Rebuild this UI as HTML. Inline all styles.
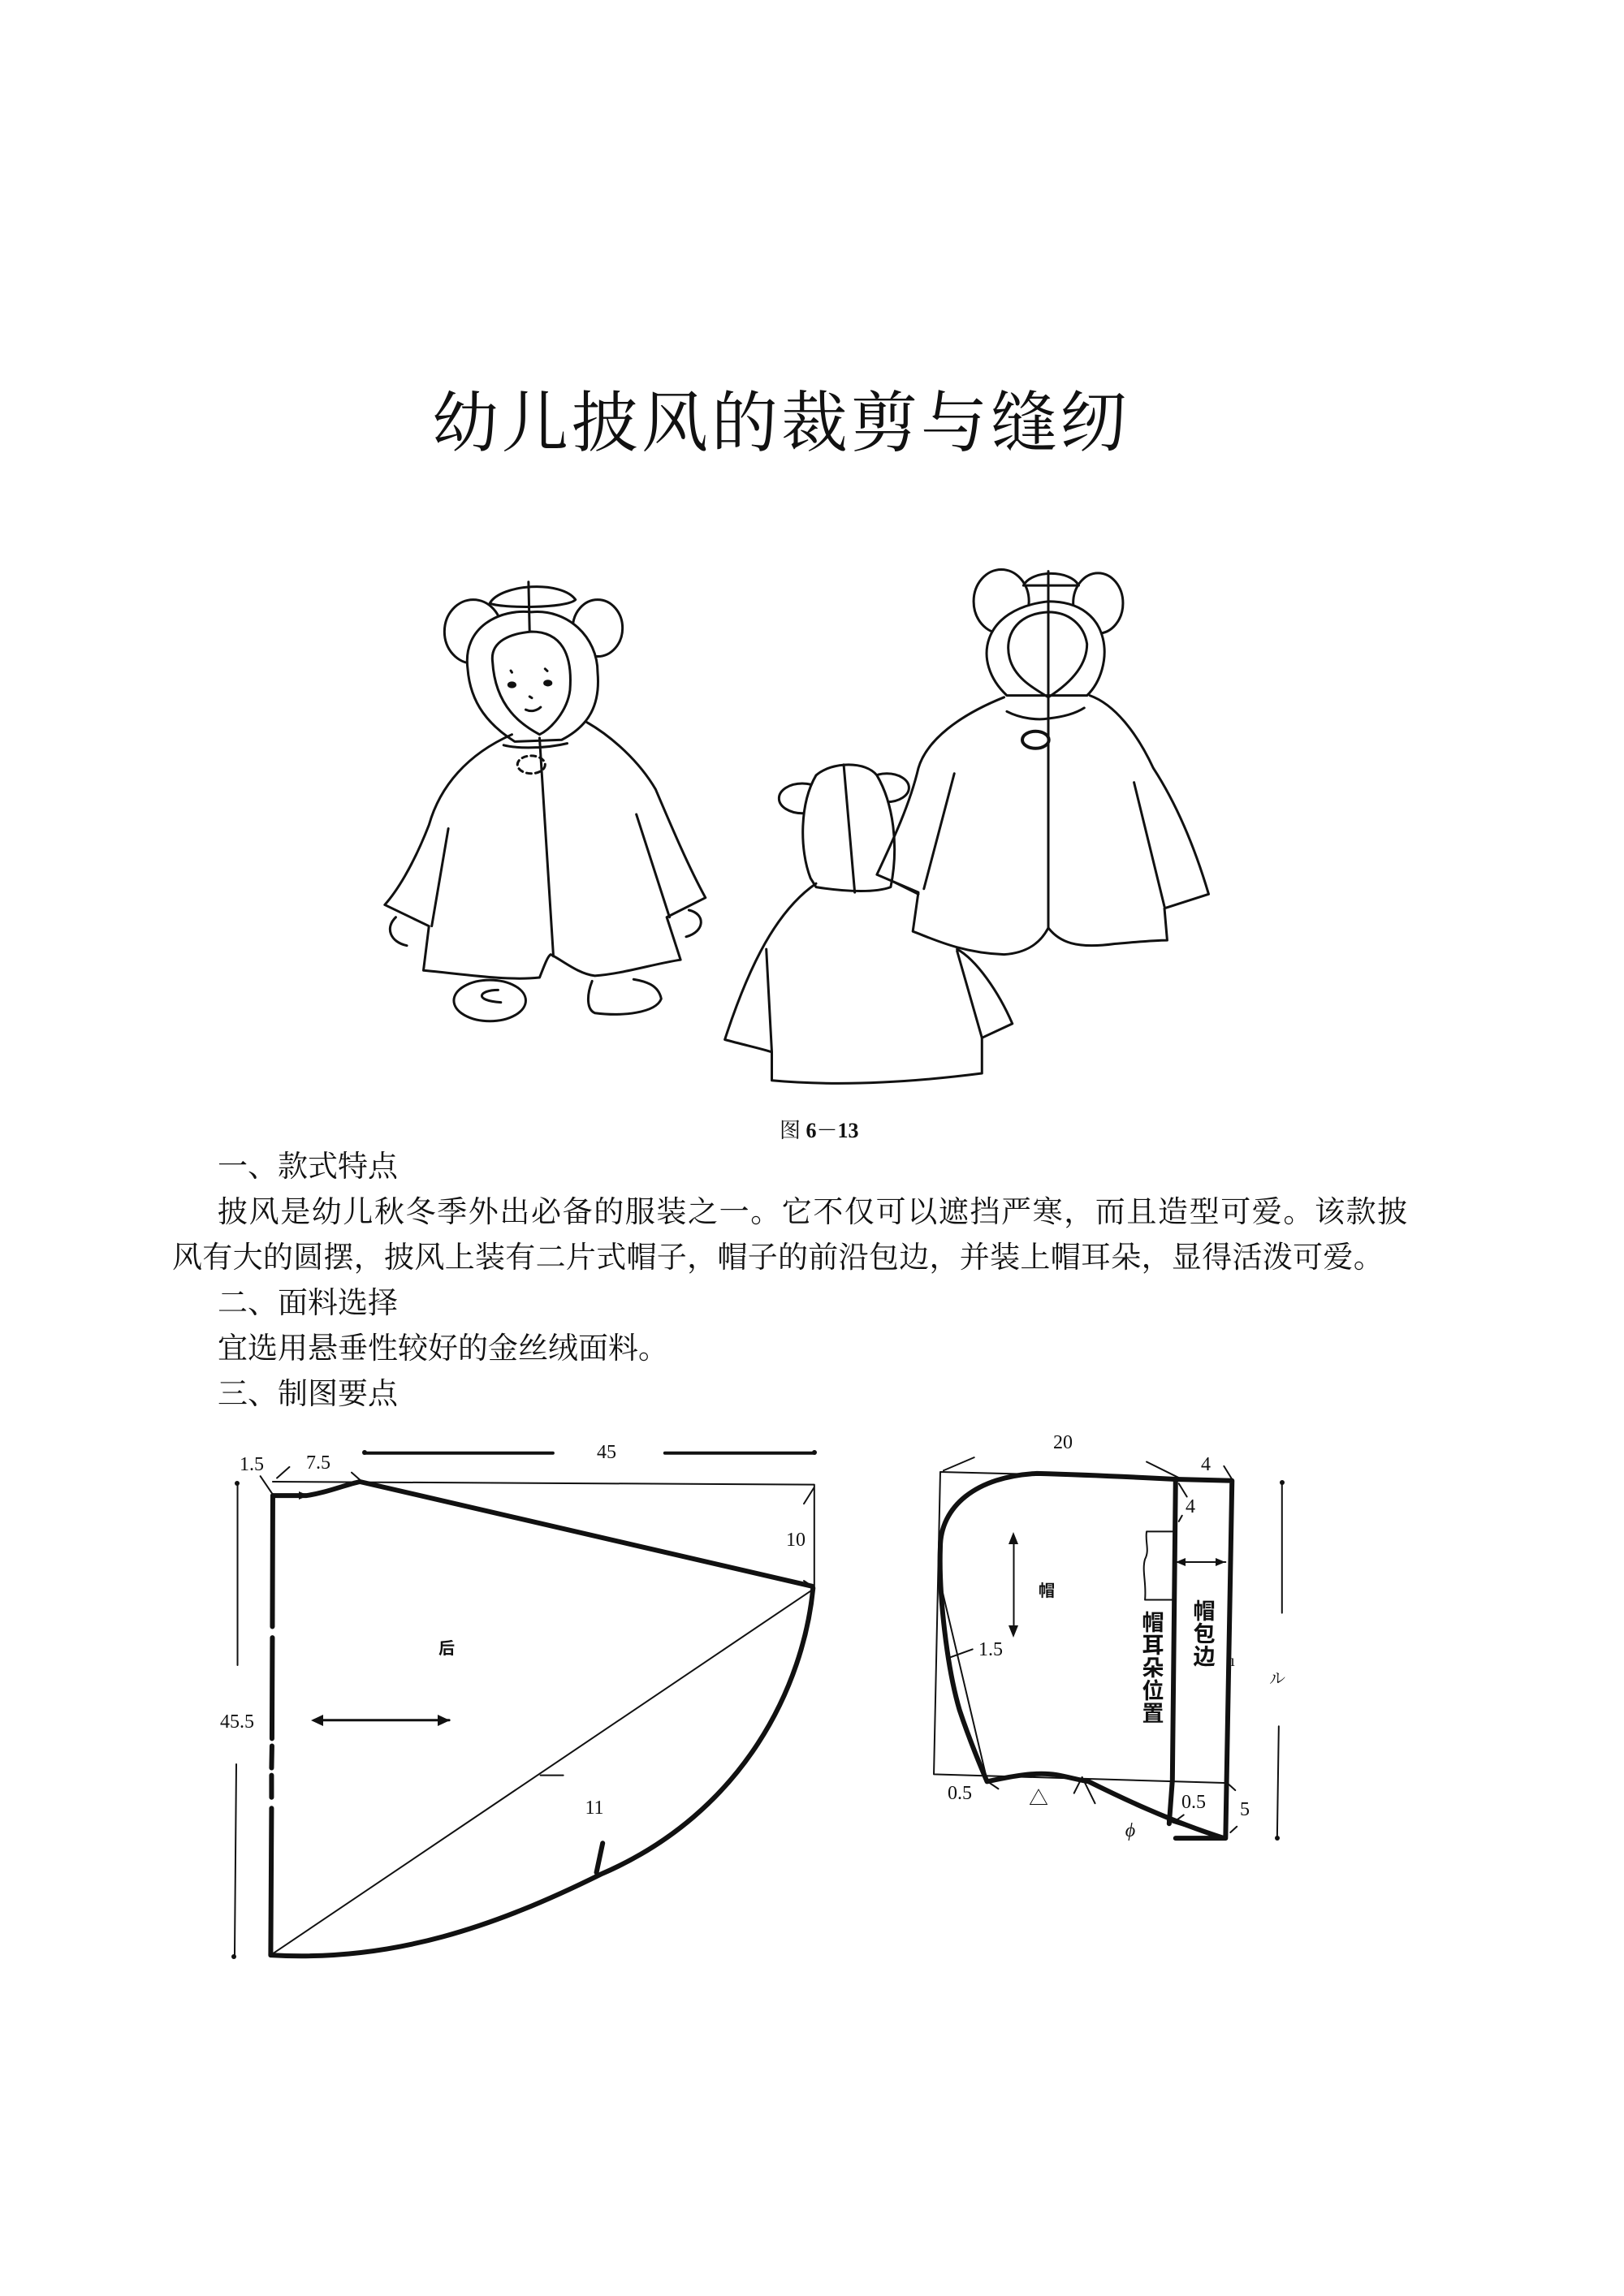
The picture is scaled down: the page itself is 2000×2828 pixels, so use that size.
<!DOCTYPE html>
<html><head><meta charset="utf-8">
<style>
html,body{margin:0;padding:0;background:#fff;}
body{width:2000px;height:2828px;position:relative;overflow:hidden;}
.t{position:absolute;white-space:nowrap;color:#111;font-family:"Liberation Serif","Noto Serif CJK SC",serif;}
.p{font-size:37px;font-family:"Liberation Serif","Noto Serif CJK SC",serif;}
svg{position:absolute;left:0;top:0;}
</style></head><body>
<div class="t" style="left:532px;top:456px;font-size:82px;letter-spacing:4px;font-family:'Noto Serif CJK SC',serif;">幼儿披风的裁剪与缝纫</div>
<div class="t" style="left:960px;top:1372px;font-size:26px;">图 <b>6－13</b></div>
<div class="t p" style="left:268px;top:1406px;">一、款式特点</div>
<div class="t p" style="left:268px;top:1462px;letter-spacing:1.6px;">披风是幼儿秋冬季外出必备的服装之一。它不仅可以遮挡严寒，而且造型可爱。该款披</div>
<div class="t p" style="left:212px;top:1518px;letter-spacing:0.3px;">风有大的圆摆，披风上装有二片式帽子，帽子的前沿包边，并装上帽耳朵，显得活泼可爱。</div>
<div class="t p" style="left:268px;top:1574px;">二、面料选择</div>
<div class="t p" style="left:268px;top:1630px;">宜选用悬垂性较好的金丝绒面料。</div>
<div class="t p" style="left:268px;top:1686px;">三、制图要点</div>

<svg width="2000" height="2828" viewBox="0 0 2000 2828">
<g fill="none" stroke="#111" stroke-linecap="round" stroke-linejoin="round">
<!-- illustration -->
<g transform="translate(467,684) scale(0.681,0.437)">
<g vector-effect="non-scaling-stroke" stroke-width="3">
<ellipse cx="170" cy="215" rx="52" ry="90" vector-effect="non-scaling-stroke"/>
<ellipse cx="395" cy="205" rx="45" ry="80" vector-effect="non-scaling-stroke"/>
<path vector-effect="non-scaling-stroke" fill="#fff" d="M200,135 C220,80 330,70 355,125 C340,150 220,150 200,135Z"/>
<path vector-effect="non-scaling-stroke" fill="#fff" d="M160,320 C150,200 220,150 275,160 C340,150 395,230 395,330 C400,420 380,480 330,520 L245,525 C200,480 165,420 160,320Z"/>
<path vector-effect="non-scaling-stroke" d="M270,75 L272,215"/>
<path vector-effect="non-scaling-stroke" d="M205,300 C200,240 240,220 275,215 C330,215 350,280 345,380 C340,440 310,490 290,505 C260,480 210,430 205,300Z"/>
<circle cx="240" cy="365" r="6" fill="#111" vector-effect="non-scaling-stroke"/>
<circle cx="305" cy="360" r="6" fill="#111" vector-effect="non-scaling-stroke"/>
<path vector-effect="non-scaling-stroke" d="M272,398 L276,402 M265,435 C275,442 285,438 292,428 M238,325 L240,330 M300,320 L304,326"/>
<path vector-effect="non-scaling-stroke" d="M240,505 C160,560 110,650 90,760 C60,880 30,950 10,985 L90,1045 L80,1170 C150,1180 230,1200 290,1190 C300,1150 305,1130 310,1125 C330,1140 360,1180 390,1185 C440,1180 500,1150 545,1140 L520,1020 L590,965 C560,880 530,770 500,660 C470,580 420,510 375,470"/>
<path vector-effect="non-scaling-stroke" d="M125,770 L95,1045 M465,730 L525,1020 M290,515 L315,1130 M225,535 C250,545 300,545 340,530"/>
<circle cx="275" cy="590" r="25" stroke-dasharray="6 5" vector-effect="non-scaling-stroke"/>
<path vector-effect="non-scaling-stroke" d="M30,1020 C10,1050 20,1090 50,1100 M560,1000 C590,1010 590,1060 555,1075"/>
<ellipse cx="200" cy="1255" rx="65" ry="58" vector-effect="non-scaling-stroke"/>
<path vector-effect="non-scaling-stroke" d="M215,1225 C180,1225 170,1255 220,1260"/>
<path vector-effect="non-scaling-stroke" d="M385,1200 C375,1240 375,1280 390,1290 C440,1300 500,1290 510,1250 C505,1210 480,1200 460,1195"/>
<circle cx="765" cy="685" r="42" vector-effect="non-scaling-stroke"/>
<circle cx="918" cy="655" r="40" vector-effect="non-scaling-stroke"/>
<path vector-effect="non-scaling-stroke" fill="#fff" d="M780,910 C760,830 760,700 790,620 C820,580 880,580 900,620 C930,700 940,820 925,935 C900,950 850,950 790,935Z"/>
<path vector-effect="non-scaling-stroke" d="M840,590 L860,950"/>
<path vector-effect="non-scaling-stroke" d="M790,925 C720,1000 670,1150 625,1365 C660,1380 690,1390 710,1400 L710,1480 C850,1500 990,1480 1090,1460 L1090,1360 L1145,1320 C1120,1230 1080,1140 1045,1110"/>
<path vector-effect="non-scaling-stroke" d="M710,1400 L700,1110 M1090,1360 L1045,1115 M930,920 L975,955"/>
<ellipse cx="1125" cy="130" rx="50" ry="90" vector-effect="non-scaling-stroke"/>
<ellipse cx="1300" cy="135" rx="45" ry="85" vector-effect="non-scaling-stroke"/>
<path vector-effect="non-scaling-stroke" fill="#fff" d="M1165,85 C1180,40 1250,40 1265,85 Z"/>
<path vector-effect="non-scaling-stroke" fill="#fff" d="M1135,395 C1070,300 1090,150 1210,130 C1330,130 1330,320 1280,395 Z"/>
<path vector-effect="non-scaling-stroke" d="M1210,160 C1150,165 1130,230 1140,290 C1150,350 1190,380 1210,400 C1240,370 1280,320 1280,250 C1275,200 1250,160 1210,160Z"/>
<path vector-effect="non-scaling-stroke" d="M1210,45 L1210,1050"/>
<path vector-effect="non-scaling-stroke" d="M1130,400 C1050,450 990,520 975,600 C960,700 930,800 900,900 L975,950 L965,1060 C1000,1080 1050,1120 1130,1125 C1180,1120 1200,1080 1210,1050 C1230,1090 1260,1110 1330,1095 C1370,1090 1400,1085 1425,1085 L1420,995 L1500,955 C1480,850 1450,720 1400,600 C1370,500 1330,420 1285,395"/>
<path vector-effect="non-scaling-stroke" d="M1040,615 L985,940 M1365,640 L1420,990 M1135,440 C1160,460 1190,465 1210,460 C1240,455 1260,445 1275,430"/>
<circle cx="1187" cy="520" r="24" stroke-width="4" vector-effect="non-scaling-stroke"/>
</g></g>

<g transform="translate(0,-15)">
<!-- diagram 1 -->
<g transform="translate(254.2,1772.2) scale(0.511,0.452)">
<path vector-effect="non-scaling-stroke" stroke-width="2" d="M160,150 L1465,158 L1465,440 M155,1440 L1460,445 M130,135 L160,185 M170,140 L200,110 M350,125 L375,150 M1440,210 L1465,165 M805,950 L860,950 M1440,420 L1460,435"/>
<path vector-effect="non-scaling-stroke" stroke-width="6" d="M160,188 L240,188 C290,180 330,160 370,150 L1460,435 M1462,440 C1440,700 1300,1050 950,1220 C700,1360 450,1460 155,1440 M955,1135 L940,1215"/>
<path vector-effect="non-scaling-stroke" stroke-width="6" d="M160,188 L159,545 M159,575 L158,850 M158,870 L157,930 M157,950 L157,1010 M157,1040 L155,1440"/>
<path vector-effect="non-scaling-stroke" stroke-width="2" d="M75,155 L75,650 M72,920 L68,1445"/>
<path vector-effect="non-scaling-stroke" stroke-width="4" d="M380,72 L835,72 M1105,72 L1465,72"/>
<path vector-effect="non-scaling-stroke" stroke-width="3" d="M260,800 L585,800"/>
</g>
<g fill="#111" stroke="none">
<circle cx="449" cy="1804" r="3"/><circle cx="1003" cy="1804" r="3"/>
<circle cx="292" cy="1842" r="3"/><circle cx="288" cy="2425" r="3"/>
<path d="M383,2134 L398,2127 L398,2141Z M554,2134 L539,2127 L539,2141Z M380,1857 L368,1852 L368,1862Z"/>
</g>
</g>

<g transform="translate(0,-18)">
<!-- diagram 2 -->
<g transform="translate(1102.4,1766.6) scale(0.397,0.358)">
<path vector-effect="non-scaling-stroke" stroke-width="2" d="M140,180 L870,200 M140,180 L120,1220 L1030,1250 M140,560 L285,1240 M845,1380 L1020,1440 M860,385 L780,385 C775,420 790,450 775,480 C765,520 780,560 775,620 L860,620 M870,490 L1025,490 M368,400 L368,730 M150,175 L245,130 M780,145 L880,200 M1020,160 L1045,205 M880,220 L905,265 M880,350 L890,330 M165,820 L240,790 M280,1240 L320,1270 M555,1285 L580,1230 L620,1320 M1030,1250 L1055,1275 M870,1380 L895,1360 M1040,1420 L1060,1400 M1200,215 L1200,665 M1190,1055 L1185,1440"/>
<path vector-effect="non-scaling-stroke" stroke-width="6" d="M440,185 C600,190 750,198 870,205 L1045,210 M440,185 C250,195 140,300 140,440 C135,600 160,850 200,1000 C230,1100 260,1180 285,1245 M285,1245 C350,1230 430,1210 500,1222 C540,1230 570,1240 600,1245 C700,1300 850,1380 1020,1440 M870,205 L860,1240 L850,1390 M1045,210 L1025,1440 M870,1440 L1025,1440"/>
</g>
<g fill="#111" stroke="none">
<circle cx="1579" cy="1844" r="3"/><circle cx="1573" cy="2282" r="3"/>
<path d="M1248,1905 L1242,1920 L1254,1920Z M1248,2035 L1242,2020 L1254,2020Z M1448,1942 L1460,1937 L1460,1947Z M1509,1942 L1497,1937 L1497,1947Z"/>
</g>
</g>
</g>
<g transform="translate(0,-15)" font-family="Liberation Serif, Noto Serif CJK SC, serif" font-size="24" fill="#111" text-anchor="middle">
<text x="310" y="1826">1.5</text>
<text x="392" y="1824">7.5</text>
<text x="747" y="1811">45</text>
<text x="980" y="1919">10</text>
<text x="550" y="2052" font-weight="bold" font-size="20" font-family="Noto Sans CJK SC, sans-serif">后</text>
<text x="292" y="2143">45.5</text>
<text x="732" y="2249">11</text>
</g>
<g transform="translate(0,-18)" font-family="Liberation Serif, Noto Serif CJK SC, serif" font-size="24" fill="#111" text-anchor="middle">
<text x="1309" y="1802">20</text>
<text x="1485" y="1829">4</text>
<text x="1466" y="1881">4</text>
<text x="1289" y="1984" font-weight="bold" font-size="20" font-family="Noto Sans CJK SC, sans-serif">帽</text>
<text x="1220" y="2057">1.5</text>
<text x="1182" y="2234">0.5</text>
<text x="1279" y="2241">△</text>
<text x="1392" y="2280" font-style="italic">ϕ</text>
<text x="1470" y="2245">0.5</text>
<text x="1533" y="2254">5</text>
<text x="1573" y="2092" font-size="20">ル</text>
<text x="1518" y="2070" font-size="20">ı</text>
</g>
<g transform="translate(0,-18)" font-family="Noto Sans CJK SC, sans-serif" font-size="27" font-weight="bold" fill="#111" text-anchor="middle">
<text x="1420" y="2026">帽</text><text x="1420" y="2054">耳</text><text x="1420" y="2082">朵</text><text x="1420" y="2110">位</text><text x="1420" y="2138">置</text>
<text x="1483" y="2012">帽</text><text x="1483" y="2040">包</text><text x="1483" y="2068">边</text>
</g>
</svg>
</body></html>
